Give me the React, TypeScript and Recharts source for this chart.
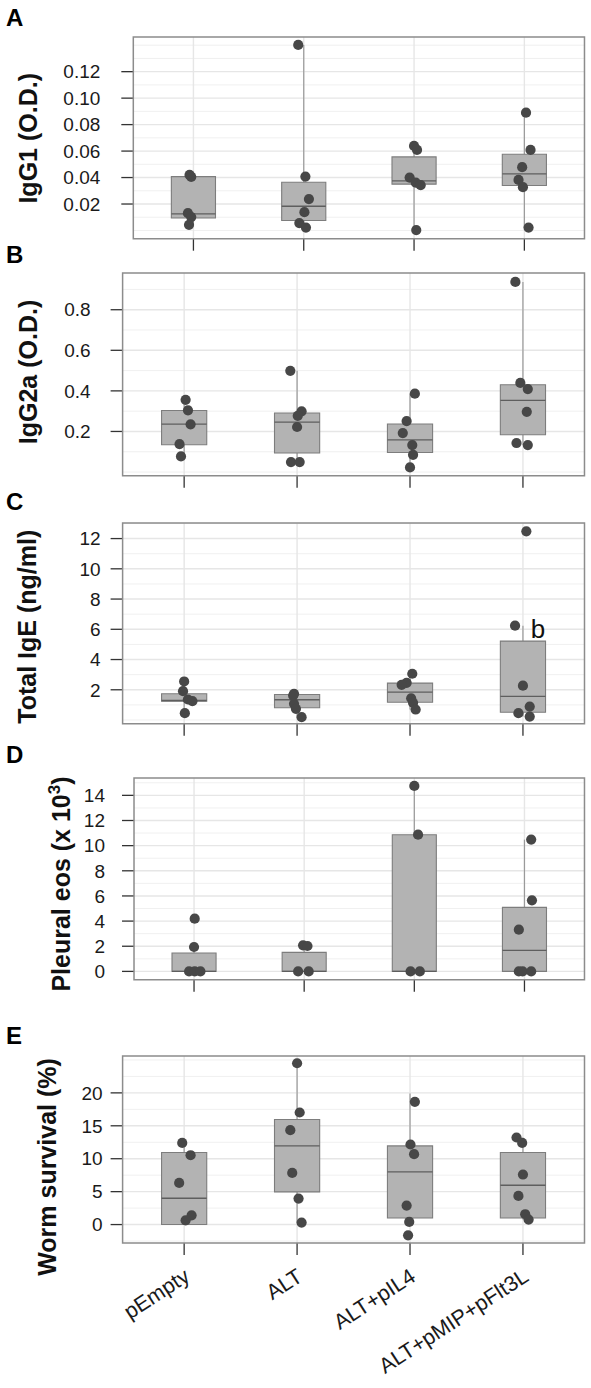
import React from "react";
import {
  ComposedChart,
  XAxis,
  YAxis,
  Scatter,
  ReferenceArea,
  ReferenceLine,
  ReferenceDot,
  CartesianGrid,
} from "recharts";

const FONT = '"Liberation Sans", Arial, Helvetica, sans-serif';

// ---------------- data ----------------
const categories = ["pEmpty", "ALT", "ALT+pIL4", "ALT+pMIP+pFlt3L"];

// Panel A: IgG1 (O.D.)
const igg1Values = [
  [0.042, 0.0405, 0.0131, 0.0101, 0.0043],
  [0.1402, 0.0407, 0.0237, 0.0138, 0.0056, 0.0022],
  [0.0639, 0.0609, 0.04, 0.0362, 0.0342, 0.0003],
  [0.089, 0.0609, 0.0478, 0.0382, 0.0327, 0.0022],
];
const igg1Jitter = [
  [-0.035, -0.02, -0.05, -0.02, -0.04],
  [-0.05, 0.015, 0.047, 0.006, -0.04, 0.02],
  [0, 0.027, -0.04, 0.015, 0.06, 0.02],
  [0.015, 0.056, -0.02, -0.053, -0.013, 0.038],
];
// [lower whisker, Q1, median, Q3, upper whisker]
const igg1Box = [
  [0.0045, 0.0094, 0.0126, 0.0407, 0.042],
  [0.0022, 0.0075, 0.0183, 0.0365, 0.1402],
  [0.0003, 0.035, 0.0375, 0.0556, 0.0639],
  [0.0022, 0.034, 0.0428, 0.0576, 0.089],
];
const igg1Ticks = [0.02, 0.04, 0.06, 0.08, 0.1, 0.12];
const igg1Minor = [0, 0.01, 0.03, 0.05, 0.07, 0.09, 0.11, 0.13, 0.14];

// Panel B: IgG2a (O.D.)
const igg2aValues = [
  [0.356, 0.304, 0.235, 0.138, 0.077],
  [0.499, 0.299, 0.277, 0.222, 0.049, 0.049],
  [0.386, 0.251, 0.192, 0.133, 0.085, 0.0225],
  [0.937, 0.439, 0.409, 0.297, 0.143, 0.133],
];
const igg2aJitter = [
  [0.013, 0.034, 0.057, -0.041, -0.028],
  [-0.06, 0.04, 0.006, 0, -0.054, 0.023],
  [0.043, -0.03, -0.064, 0.02, 0.027, 0],
  [-0.067, -0.023, 0.043, 0.034, -0.057, 0.043],
];
const igg2aBox = [
  [0.077, 0.1345, 0.2365, 0.3036, 0.356],
  [0.049, 0.0935, 0.2463, 0.2907, 0.499],
  [0.0225, 0.0965, 0.159, 0.2365, 0.386],
  [0.133, 0.1838, 0.3529, 0.4303, 0.937],
];
const igg2aTicks = [0.2, 0.4, 0.6, 0.8];
const igg2aMinor = [0, 0.1, 0.3, 0.5, 0.7, 0.9];

// Panel C: Total IgE (ng/ml)
const igeValues = [
  [2.549, 1.907, 1.357, 1.245, 0.45],
  [1.734, 1.62, 1.07, 0.74, 0.185],
  [3.06, 2.46, 2.33, 1.44, 1.14, 0.694],
  [12.48, 6.24, 2.27, 0.89, 0.45, 0.23],
];
const igeJitter = [
  [0, -0.01, 0.033, 0.073, 0.006],
  [-0.027, -0.035, -0.027, -0.01, 0.04],
  [0.02, -0.03, -0.074, 0.01, 0.027, 0.05],
  [0.03, -0.07, 0, 0.06, -0.04, 0.06],
];
const igeBox = [
  [0.45, 1.245, 1.29, 1.734, 2.549],
  [0.185, 0.807, 1.34, 1.69, 1.734],
  [0.694, 1.18, 1.84, 2.44, 3.06],
  [0.23, 0.516, 1.56, 5.22, 6.24],
];
const igeTicks = [2, 4, 6, 8, 10, 12];
const igeMinor = [0, 1, 3, 5, 7, 9, 11, 13];
const igeAnnotation = { text: "b", group: 4, value: 5.44 };

// Panel D: Pleural eos (x 10^3)
const eosValues = [
  [4.19, 1.94, 0, 0, 0],
  [2.07, 2.02, 0, 0],
  [14.75, 10.87, 0, 0],
  [10.48, 5.65, 3.32, 0, 0, 0],
];
const eosJitter = [
  [0.006, 0, -0.045, 0.006, 0.058],
  [-0.01, 0.03, -0.055, 0.041],
  [0, 0.034, -0.034, 0.05],
  [0.061, 0.068, -0.051, -0.051, -0.017, 0.061],
];
const eosBox = [
  [0, 0, 0, 1.46, 1.94],
  [0, 0, 0, 1.51, 2.07],
  [0, 0, 0, 10.87, 14.75],
  [0, 0, 1.67, 5.09, 10.48],
];
const eosTicks = [0, 2, 4, 6, 8, 10, 12, 14];
const eosMinor = [1, 3, 5, 7, 9, 11, 13, 15];

// Panel E: Worm survival (%)
const wormValues = [
  [12.4, 10.53, 6.32, 1.41, 0.65],
  [24.5, 17.02, 14.33, 7.84, 3.95, 0.3],
  [18.64, 12.16, 10.69, 2.89, 0.4, -1.63],
  [13.22, 12.4, 7.6, 4.35, 1.57, 0.76],
];
const wormJitter = [
  [-0.017, 0.057, -0.044, 0.066, 0.013],
  [0, 0.023, -0.06, -0.043, 0.013, 0.04],
  [0.043, 0.004, 0.036, -0.03, -0.007, -0.017],
  [-0.057, -0.007, 0, -0.04, 0.02, 0.05],
];
const wormBox = [
  [0, 0, 4.0, 10.94, 12.4],
  [0.3, 4.96, 11.95, 15.96, 24.5],
  [0, 1.0, 8.0, 11.95, 19.9],
  [0.76, 1.0, 5.97, 10.94, 13.2],
];
const wormTicks = [0, 5, 10, 15, 20];
const wormMinor = [-2.5, 2.5, 7.5, 12.5, 17.5, 22.5, 25];

// ---------------- layout ----------------
const PAGE_W = 591;
const PLOT_RIGHT = 584.5;
const X_DOMAIN: [number, number] = [0.455, 4.545];
const GROUP_X = [1, 2, 3, 4];
const HALF_BOX = 0.2;

const PointDot = (props: any) => {
  const { cx, cy } = props;
  if (cx == null || cy == null) return <g />;
  return <circle cx={cx} cy={cy} r={5.1} fill="#474747" />;
};

const EmptyTick = () => <g />;

const XLabelTick = (props: any) => {
  const { x, y, payload } = props;
  const label = categories[Math.round(payload.value) - 1] ?? "";
  return (
    <text
      transform={`translate(${x + 7},${y + 25}) rotate(-33)`}
      textAnchor="end"
      fontSize={21.5}
      fontFamily={FONT}
      fill="#1a1a1a"
    >
      {label}
    </text>
  );
};

type PanelProps = {
  plotTop: number;
  plotBottom: number;
  plotLeft: number;
  xAxisHeight: number;
  domain: [number, number];
  ticks: number[];
  minor: number[];
  fmt: (v: number) => string;
  labelGap: number;
  values: number[][];
  jitter: number[][];
  box: number[][];
  showLabels?: boolean;
  annotation?: { text: string; group: number; value: number };
};

function Panel(p: PanelProps) {
  const marginTop = 20;
  const plotH = p.plotBottom - p.plotTop;
  const height = marginTop + plotH + p.xAxisHeight;
  const points = p.values.flatMap((vals, i) =>
    vals.map((v, j) => ({ x: GROUP_X[i] + p.jitter[i][j], y: v }))
  );
  return (
    <div
      style={{
        position: "absolute",
        left: 0,
        top: p.plotTop - marginTop,
        width: PAGE_W,
        height,
      }}
    >
      <ComposedChart
        width={PAGE_W}
        height={height}
        margin={{ top: marginTop, right: PAGE_W - PLOT_RIGHT, bottom: 0, left: 0 }}
      >
        <CartesianGrid
          horizontalValues={p.minor}
          vertical={false}
          stroke="#F0F0F0"
          strokeWidth={1}
        />
        <CartesianGrid
          horizontalValues={p.ticks}
          verticalValues={GROUP_X}
          stroke="#E6E6E6"
          strokeWidth={1.4}
        />
        <XAxis
          type="number"
          dataKey="x"
          domain={X_DOMAIN}
          ticks={GROUP_X}
          interval={0}
          allowDataOverflow
          axisLine={false}
          tickSize={12}
          tickMargin={0}
          tickLine={{ stroke: "#333", strokeWidth: 1.3 }}
          height={p.xAxisHeight}
          tick={p.showLabels ? <XLabelTick /> : <EmptyTick />}
        />
        <YAxis
          type="number"
          dataKey="y"
          domain={p.domain}
          ticks={p.ticks}
          interval={0}
          allowDataOverflow
          axisLine={false}
          width={p.plotLeft}
          tickSize={12}
          tickMargin={p.labelGap}
          tickFormatter={p.fmt}
          tickLine={{ stroke: "#333", strokeWidth: 1.3 }}
          tick={{ fill: "#1a1a1a", fontSize: 19, fontFamily: FONT }}
        />
        {p.box.map((b, i) => (
          <ReferenceLine
            key={`wl${i}`}
            segment={[
              { x: GROUP_X[i], y: b[0] },
              { x: GROUP_X[i], y: b[1] },
            ]}
            stroke="#9a9a9a"
            strokeWidth={1.2}
            zIndex={50}
          />
        ))}
        {p.box.map((b, i) => (
          <ReferenceLine
            key={`wh${i}`}
            segment={[
              { x: GROUP_X[i], y: b[3] },
              { x: GROUP_X[i], y: b[4] },
            ]}
            stroke="#9a9a9a"
            strokeWidth={1.2}
            zIndex={50}
          />
        ))}
        {p.box.map((b, i) => (
          <ReferenceArea
            key={`bx${i}`}
            x1={GROUP_X[i] - HALF_BOX}
            x2={GROUP_X[i] + HALF_BOX}
            y1={b[1]}
            y2={b[3]}
            fill="#B3B3B3"
            fillOpacity={1}
            stroke="#7d7d7d"
            strokeWidth={1.1}
            zIndex={100}
          />
        ))}
        {p.box.map((b, i) => (
          <ReferenceLine
            key={`md${i}`}
            segment={[
              { x: GROUP_X[i] - HALF_BOX, y: b[2] },
              { x: GROUP_X[i] + HALF_BOX, y: b[2] },
            ]}
            stroke="#5e5e5e"
            strokeWidth={1.3}
            zIndex={150}
          />
        ))}
        <Scatter
          data={points}
          dataKey="y"
          isAnimationActive={false}
          shape={<PointDot />}
          zIndex={600}
        />
        {p.annotation && (
          <ReferenceDot
            x={p.annotation.group + 0.07}
            y={p.annotation.value}
            r={0}
            zIndex={700}
            shape={(s: any) => (
              <text
                x={s.cx}
                y={s.cy}
                fontSize={26}
                fontFamily={FONT}
                fill="#111"
              >
                {p.annotation!.text}
              </text>
            )}
          />
        )}
        <ReferenceArea
          x1={X_DOMAIN[0]}
          x2={X_DOMAIN[1]}
          y1={p.domain[0]}
          y2={p.domain[1]}
          fill="none"
          fillOpacity={0}
          stroke="#8c8c8c"
          strokeWidth={1.5}
          zIndex={800}
        />
      </ComposedChart>
    </div>
  );
}

const titleStyle = {
  fontFamily: FONT,
  fontWeight: "bold" as const,
  fontSize: 25,
  fill: "#111",
};

export default function App() {
  return (
    <div
      style={{
        position: "absolute",
        left: 0,
        top: 0,
        width: PAGE_W,
        height: 1388,
        background: "#ffffff",
        overflow: "hidden",
      }}
    >
      <Panel
        plotTop={37}
        plotBottom={238.7}
        plotLeft={133.3}
        xAxisHeight={20}
        domain={[-0.0062, 0.1462]}
        ticks={igg1Ticks}
        minor={igg1Minor}
        fmt={(v) => v.toFixed(2)}
        labelGap={21}
        values={igg1Values}
        jitter={igg1Jitter}
        box={igg1Box}
      />
      <Panel
        plotTop={273.3}
        plotBottom={476}
        plotLeft={122.6}
        xAxisHeight={20}
        domain={[-0.018, 0.981]}
        ticks={igg2aTicks}
        minor={igg2aMinor}
        fmt={(v) => v.toFixed(1)}
        labelGap={20}
        values={igg2aValues}
        jitter={igg2aJitter}
        box={igg2aBox}
      />
      <Panel
        plotTop={522.7}
        plotBottom={723.5}
        plotLeft={122.6}
        xAxisHeight={20}
        domain={[-0.25, 13.03]}
        ticks={igeTicks}
        minor={igeMinor}
        fmt={(v) => String(v)}
        labelGap={10}
        values={igeValues}
        jitter={igeJitter}
        box={igeBox}
        annotation={igeAnnotation}
      />
      <Panel
        plotTop={778.3}
        plotBottom={980}
        plotLeft={134}
        xAxisHeight={20}
        domain={[-0.66, 15.38]}
        ticks={eosTicks}
        minor={eosMinor}
        fmt={(v) => String(v)}
        labelGap={17}
        values={eosValues}
        jitter={eosJitter}
        box={eosBox}
      />
      <Panel
        plotTop={1055.7}
        plotBottom={1242.7}
        plotLeft={122.6}
        xAxisHeight={145}
        domain={[-2.8, 25.6]}
        ticks={wormTicks}
        minor={wormMinor}
        fmt={(v) => String(v)}
        labelGap={8}
        values={wormValues}
        jitter={wormJitter}
        box={wormBox}
        showLabels
      />
      <svg
        width={PAGE_W}
        height={1388}
        style={{ position: "absolute", left: 0, top: 0, pointerEvents: "none" }}
      >
        <g style={{ fontFamily: FONT, fontWeight: "bold", fontSize: 24 }} fill="#000">
          <text x={6} y={26}>A</text>
          <text x={6} y={263}>B</text>
          <text x={6} y={510}>C</text>
          <text x={6} y={763}>D</text>
          <text x={6} y={1044}>E</text>
        </g>
        <text transform="translate(36.5,138.3) rotate(-90)" textAnchor="middle" style={titleStyle}>
          IgG1 (O.D.)
        </text>
        <text transform="translate(36.5,372) rotate(-90)" textAnchor="middle" style={titleStyle}>
          IgG2a (O.D.)
        </text>
        <text transform="translate(36,626.7) rotate(-90)" textAnchor="middle" style={titleStyle}>
          Total IgE (ng/ml)
        </text>
        <text transform="translate(70,884) rotate(-90)" textAnchor="middle" style={titleStyle}>
          Pleural eos (x 10
          <tspan dy={-10} fontSize={17}>
            3
          </tspan>
          <tspan dy={10}>)</tspan>
        </text>
        <text transform="translate(55.5,1167) rotate(-90)" textAnchor="middle" style={titleStyle}>
          Worm survival (%)
        </text>
      </svg>
    </div>
  );
}
